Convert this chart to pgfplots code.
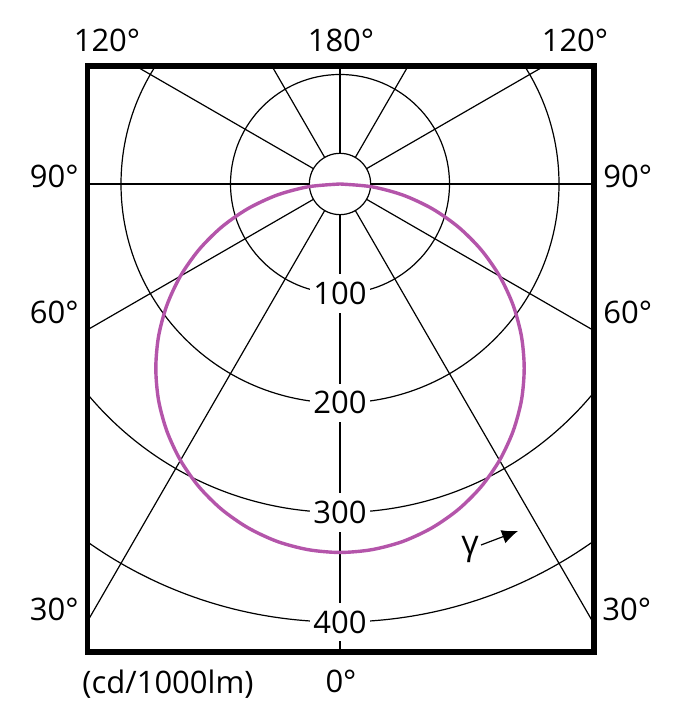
\documentclass[border=0pt]{standalone}
\usepackage{fontspec}
\setmainfont{Open Sans}
\usepackage{pgfplots}
\pgfplotsset{compat=1.18}
\usetikzlibrary{arrows.meta}
\definecolor{curvepurple}{RGB}{180,85,170}
\newcommand{\lbl}{\fontsize{15.5}{18}\selectfont}
\begin{document}
\begin{tikzpicture}
\begin{axis}[
  x=0.5475pt, y=0.5475pt,
  xmin=-230.6, xmax=232.0, ymin=-427.4, ymax=107.8,
  xtick=\empty, ytick=\empty,
  axis line style={line width=2.6pt},
  axis on top,
  clip=true,
]
% grid circles
\draw[line width=0.6pt] (axis cs:0,0) circle[radius=28];
\draw[line width=0.6pt] (axis cs:0,0) circle[radius=100];
\draw[line width=0.6pt] (axis cs:0,0) circle[radius=200];
\draw[line width=0.6pt] (axis cs:0,0) circle[radius=300];
\draw[line width=0.6pt] (axis cs:0,0) circle[radius=400];
% radial lines every 30 degrees
\addplot[black, line width=0.6pt, data cs=polar] coordinates {(-90,28) (-90,700)};
\addplot[black, line width=0.6pt, data cs=polar] coordinates {(-60,28) (-60,700)};
\addplot[black, line width=0.6pt, data cs=polar] coordinates {(-30,28) (-30,700)};
\addplot[black, line width=0.6pt, data cs=polar] coordinates {(0,28) (0,700)};
\addplot[black, line width=0.6pt, data cs=polar] coordinates {(30,28) (30,700)};
\addplot[black, line width=0.6pt, data cs=polar] coordinates {(60,28) (60,700)};
\addplot[black, line width=0.6pt, data cs=polar] coordinates {(90,28) (90,700)};
\addplot[black, line width=0.6pt, data cs=polar] coordinates {(120,28) (120,700)};
\addplot[black, line width=0.6pt, data cs=polar] coordinates {(150,28) (150,700)};
\addplot[black, line width=0.6pt, data cs=polar] coordinates {(180,28) (180,700)};
\addplot[black, line width=0.6pt, data cs=polar] coordinates {(210,28) (210,700)};
\addplot[black, line width=0.6pt, data cs=polar] coordinates {(240,28) (240,700)};
% luminous intensity curve
\addplot[curvepurple, line width=1.7pt, smooth, data cs=polar] coordinates {
(-180,0) (-175,29.3) (-170,58.4) (-165,87.1) (-160,115.1) (-155,142.2)
(-150,168.3) (-145,193.0) (-140,216.3) (-135,237.9) (-130,257.8) (-125,275.6)
(-120,291.4) (-115,305.0) (-110,316.2) (-105,325.0) (-100,331.4) (-95,335.2)
(-90,336.5)
(-85,335.2) (-80,331.4) (-75,325.0) (-70,316.2) (-65,305.0) (-60,291.4)
(-55,275.6) (-50,257.8) (-45,237.9) (-40,216.3) (-35,193.0) (-30,168.3)
(-25,142.2) (-20,115.1) (-15,87.1) (-10,58.4) (-5,29.3) (0,0)
};
\coordinate (O) at (axis cs:0,0);
\coordinate (L100) at (axis cs:0,-100);
\coordinate (L200) at (axis cs:0,-200);
\coordinate (L300) at (axis cs:0,-300);
\coordinate (L400) at (axis cs:0,-400);
\end{axis}
% value labels on the circles
\foreach \c/\t in {L100/100,L200/200,L300/300,L400/400}{
  \node[fill=white, inner xsep=1.5pt, inner ysep=4.2pt, text height=11pt, text depth=0pt, font=\lbl] at (\c) {\t};
}
% angle labels
\node[anchor=base, font=\lbl] at ([shift={(-116.5pt,66pt)}]O) {120°};
\node[anchor=base, font=\lbl] at ([shift={(0.5pt,66pt)}]O) {180°};
\node[anchor=base, font=\lbl] at ([shift={(117.5pt,66pt)}]O) {120°};
\node[anchor=base east, font=\lbl, inner sep=0pt] at ([shift={(-130.5pt,-2pt)}]O) {90°};
\node[anchor=base west, font=\lbl, inner sep=0pt] at ([shift={(131.5pt,-2pt)}]O) {90°};
\node[anchor=base east, font=\lbl, inner sep=0pt] at ([shift={(-130.5pt,-70pt)}]O) {60°};
\node[anchor=base west, font=\lbl, inner sep=0pt] at ([shift={(131.5pt,-70pt)}]O) {60°};
\node[anchor=base east, font=\lbl, inner sep=0pt] at ([shift={(-130.5pt,-218.5pt)}]O) {30°};
\node[anchor=base west, font=\lbl, inner sep=0pt] at ([shift={(131pt,-218.5pt)}]O) {30°};
\node[anchor=base, font=\lbl] at ([shift={(0.5pt,-254pt)}]O) {0°};
\node[anchor=base, font=\lbl] at ([shift={(-86pt,-254.5pt)}]O) {(cd/1000lm)};
% gamma with arrow
\node[font=\fontsize{17}{20}\selectfont] at ([shift={(65pt,-182.5pt)}]O) {γ};
\draw[line width=0.6pt, -{Latex[length=8pt,width=7pt]}] ([shift={(70.5pt,-180.5pt)}]O) -- ([shift={(89pt,-173.5pt)}]O);
% bounding box matching the reference proportions
\path[use as bounding box] ([shift={(-170pt,92pt)}]O) rectangle ([shift={(172.5pt,-271.5pt)}]O);
\end{tikzpicture}
\end{document}
